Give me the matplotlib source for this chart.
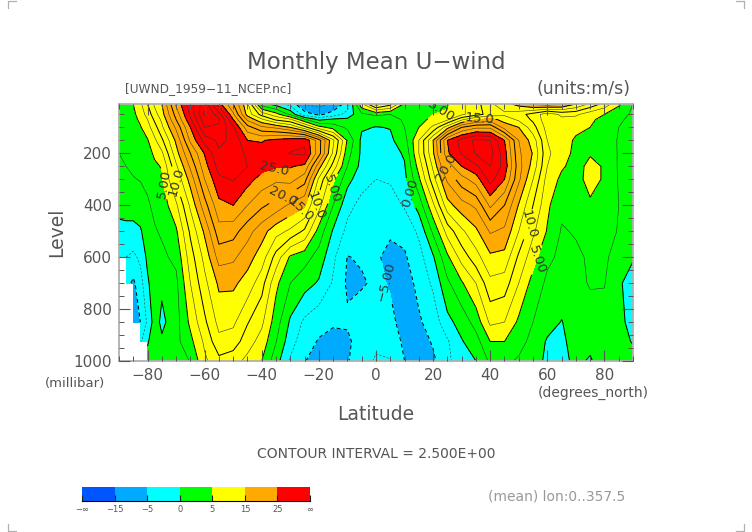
import numpy as np
import matplotlib
matplotlib.use("Agg")
import matplotlib.pyplot as plt
from matplotlib.lines import Line2D

nan = np.nan

levels_mb = [1000, 925, 850, 700, 600, 500, 400, 300, 250, 200, 150, 100, 70, 50, 10]

# zonal mean u-wind, one list per latitude, 1000 mb first
u_by_lat = {
    -90: [nan, nan, nan, nan, -2, -0.7, 0.8, 1.5, 2, 2.5, 3, 3.5, 3.8, 4, 4.5],
    -87.5: [nan, nan, nan, -4, -2.5, -0.8, 1.2, 2, 2.5, 3, 3.5, 3.7, 3.9, 4.2, 4.8],
    -85: [nan, nan, -6, -5.5, -3, -0.8, 1.2, 2.4, 2.8, 3.3, 3.6, 3.8, 4.2, 4.5, 5],
    -82.5: [nan, -3, -5, -3.5, -2, -0.3, 1.5, 2.6, 3, 3.5, 4, 4.8, 5.5, 6, 7],
    -80: [1, -0.3, -2, -0.4, 0.6, 1.5, 2.2, 3, 3.5, 4, 4.8, 6.5, 7.5, 8.5, 10],
    -77.5: [1.8, 1.6, 1.2, 1.5, 1.8, 2.3, 3, 4, 4.5, 5.5, 7, 9, 10.5, 11.5, 13],
    -75: [2, 0.4, -0.6, 0.5, 2, 2.8, 3.5, 4.6, 5.2, 7, 9.5, 12, 13, 14, 15],
    -70: [1.5, 1.8, 1.5, 1.9, 3.1, 4.6, 7, 10.5, 12, 14, 15.5, 18, 20, 21, 23],
    -65: [2.6, 4.3, 5.6, 7.5, 8.8, 10.5, 13, 16, 18, 20, 23, 25, 27, 28, 29],
    -60: [7, 8, 9.5, 11.8, 13.3, 15.5, 19, 22.5, 24, 25.2, 28.5, 32.5, 34, 35.5, 34],
    -55: [9.3, 11.8, 13.3, 15.5, 18.5, 21.5, 24.3, 27, 28.5, 29.7, 30.5, 32, 33, 31, 26],
    -50: [8.5, 11.3, 13, 15.5, 18, 21, 25, 27.7, 28.5, 29, 29.5, 28, 25, 23, 20],
    -45: [6.8, 8.6, 10.2, 14, 16, 18.5, 22.5, 26, 27.5, 27, 25, 21, 17, 14, 13],
    -40: [5, 6.5, 8, 11, 13.8, 16, 20.5, 24, 26, 26, 24.8, 18, 13, 9, 1],
    -35: [1, 2.6, 3.7, 5.6, 9, 13.5, 19, 23, 25.3, 27, 25.7, 17, 9.5, 6, -1],
    -30: [-2.8, -1.5, -0.4, 2.5, 4.6, 12, 17, 23.5, 25.2, 27.6, 26.5, 15, 8, 2, -3.5],
    -25: [-4.9, -4, -3, 1, 3.5, 9.5, 15.5, 21, 24.5, 28, 27, 11, 3, -4, -7.5],
    -20: [-6, -5.2, -4.2, -0.3, 1.5, 4, 8.5, 12, 16, 21, 21, 6, -0.5, -5.5, -8.5],
    -15: [-6.5, -5.5, -4.8, -2.8, -2, -0.3, 2.5, 5.5, 9, 12, 13, 4, 0.5, -4, -7],
    -10: [-5.2, -5.6, -4.6, -5.4, -5.1, -3.2, -1.7, 0.8, 2.5, 3.5, 4.7, 2, 0.5, -1.5, -4],
    -5: [-3.5, -3.5, -3.5, -5.3, -4.7, -4, -3.3, -1.5, -0.8, -0.5, -0.6, 0.3, 1, 2, 7],
    0: [-2.2, -3, -3.5, -4.5, -4.7, -4, -3.2, -2.5, -1.8, -1, -0.5, -0.1, 1.2, 3, 14],
    5: [-2.4, -3.3, -4.5, -5.2, -5.6, -4.7, -3.7, -2.2, -1.6, -1, -0.5, 0.1, 1, 2.5, 11],
    10: [-5, -5.6, -5.8, -6, -5.3, -4.3, -2.2, -0.7, -0.2, 0.3, 1.5, 2.5, 3, 3.5, 4.5],
    15: [-6.5, -6.3, -5.3, -4.4, -3.5, -2, 1, 4.5, 6, 7.5, 7.5, 5, 4, 4, 3.5],
    20: [-5.5, -4.7, -4, -2, -0.3, 3, 7, 11.5, 13, 14.6, 15, 8, 5.8, 5, 3.5],
    25: [-3, -2.8, -0.7, 2, 4.5, 8.5, 14, 18, 21, 24.6, 25, 14, 7, 5.5, 4.5],
    30: [-1.2, -0.2, 1, 4.7, 8.5, 12, 16.5, 21.5, 25, 27.8, 28.5, 20, 12, 7, 7],
    35: [0, 1.5, 3.5, 7.5, 11.5, 14.5, 18, 23.7, 27, 30.2, 30.5, 22, 15, 9, 9],
    40: [3, 5, 8, 11.8, 14.5, 17.8, 23, 28.5, 30, 31, 30, 22, 16, 11, 12],
    45: [3, 5, 7.5, 11.3, 14.2, 17, 20, 25, 26.5, 26, 25, 16.5, 14, 12, 14],
    50: [2.2, 3.3, 4.5, 7.5, 9.5, 12.5, 14.8, 18, 18.5, 18, 17.5, 15, 12, 11, 16],
    55: [1, 1.8, 2.5, 4, 6, 8, 10, 12.5, 14, 14.8, 13.8, 11, 9.5, 9, 18],
    60: [-0.5, -0.3, 1, 2, 3, 4.8, 5.5, 6.5, 7.5, 8, 7.5, 6.5, 6, 6, 19],
    65: [-0.5, -0.4, -0.1, 1.5, 2, 2.3, 3, 4.5, 5.3, 6, 6.3, 6.5, 7, 8, 18],
    70: [0.4, 0.8, 1.2, 1.8, 2.1, 2.7, 3.5, 4.1, 4.2, 4.4, 4.6, 5.7, 6.5, 8, 15],
    75: [-0.2, 0.5, 1.5, 2.7, 2.8, 3.5, 4.6, 5.9, 5.6, 4.8, 4.6, 5, 5.3, 6, 12],
    80: [1, 1.2, 1.8, 2.6, 2.9, 3.1, 4, 4.7, 4.8, 4.8, 3.8, 4.2, 4.5, 5, 9],
    85: [1.5, 1, 0.8, 0.5, 1.5, 2.4, 2.5, 2.3, 2.2, 2.2, 2.3, 2.5, 2.8, 3.2, 5.5],
    90: [1, -0.2, -1, -1.5, 0.3, 1.2, 1.6, 1.7, 1.7, 1.8, 1.9, 2, 2, 2.2, 2.5],
}

shade_levels = [-1000, -15, -5, 0, 5, 15, 25, 1000]
shade_colors = ["#0055ff", "#00aaff", "#00ffff", "#00ff00", "#ffff00", "#ffaa00", "#ff0000"]
bar_labels = ["\u2212\u221e", "\u221215", "\u22125", "0", "5", "15", "25", "\u221e"]

thin_levels = [-7.5, -2.5, 2.5, 7.5, 12.5, 17.5, 22.5, 27.5, 30, 32.5, 35]
label_fmt = {-5: "\u22125.00", 0: "0.00", 5: "5.00", 10: "10.0", 15: "15.0", 20: "20.0", 25: "25.0"}

# where the contour labels sit (latitude, mb)
label_lat = [-73.2, -68.6, -35.4, -33, -27.3, -21, -14, 13, 23.5, 36.4, 24.9, 52, 58.5, 5.6]
label_lev = [315, 304, 273, 354, 400, 400, 340, 350, 55, 73, 254, 470, 620, 688]

text_col = "#555555"
plt.rcParams["font.family"] = "DejaVu Sans"

lats = np.array(list(u_by_lat.keys()))
u = np.ma.masked_invalid(np.array(list(u_by_lat.values())).T)

fig = plt.figure(figsize=(7.52, 5.32), dpi=100)
ax = fig.add_axes([119 / 752, 1 - 361 / 532, 514 / 752, 257 / 532])

ax.contourf(lats, levels_mb, u, levels=shade_levels, colors=shade_colors, corner_mask=False)
ax.contour(lats, levels_mb, u, levels=thin_levels, colors="#333333", linewidths=0.4,
           corner_mask=False, negative_linestyles=(0, (4, 3)))
cs = ax.contour(lats, levels_mb, u, levels=list(label_fmt.keys()), colors="black", linewidths=0.7,
                corner_mask=False, negative_linestyles=(0, (4, 3)))
ax.clabel(cs, fmt=label_fmt, fontsize=9.5, colors="#333333",
          manual=list(zip(label_lat, label_lev)), inline=True, inline_spacing=1)

ax.set_xlim(-90, 90)
ax.set_ylim(1000, 10)
ax.set_xticks(range(-80, 81, 20))
ax.set_xticks(range(-90, 91, 5), minor=True)
ax.set_yticks(range(200, 1001, 200))
ax.set_yticks(range(50, 1000, 50), minor=True)
ax.tick_params(which="major", direction="in", length=8, width=0.8, top=True, right=True,
               labelsize=11, labelcolor=text_col, color="#555555", pad=5)
ax.tick_params(which="minor", direction="in", length=3.5, width=0.7, top=True, right=True,
               color="#555555")
for s in ax.spines.values():
    s.set_color("#b0b0b0")
    s.set_linewidth(1.3)
ax.set_axisbelow(False)

fig.text(376 / 752, 1 - 62 / 532, "Monthly Mean U\u2212wind", fontsize=16.5, color=text_col,
         ha="center", va="center")
fig.text(125 / 752, 1 - 89 / 532, "[UWND_1959\u221211_NCEP.nc]", fontsize=8.7, color=text_col,
         ha="left", va="center")
fig.text(630 / 752, 1 - 89 / 532, "(units:m/s)", fontsize=12.5, color=text_col, ha="right", va="center")
fig.text(57 / 752, 1 - 232 / 532, "Level", fontsize=13.5, color=text_col, rotation=90,
         ha="center", va="center")
fig.text(75 / 752, 1 - 384 / 532, "(millibar)", fontsize=9.5, color=text_col, ha="center", va="center")
fig.text(376 / 752, 1 - 415 / 532, "Latitude", fontsize=13.5, color=text_col, ha="center", va="center")
fig.text(593 / 752, 1 - 393 / 532, "(degrees_north)", fontsize=10, color=text_col, ha="center", va="center")
fig.text(376 / 752, 1 - 454 / 532, "CONTOUR INTERVAL = 2.500E+00", fontsize=10, color=text_col,
         ha="center", va="center")
fig.text(557 / 752, 1 - 497 / 532, "(mean) lon:0..357.5", fontsize=10, color="#999999", ha="center", va="center")

# colour key, equal boxes whatever the value range
cax = fig.add_axes([82 / 752, 1 - 501 / 532, 228 / 752, 14 / 532])
for i, c in enumerate(shade_colors):
    cax.bar(i, 1, width=1, align="edge", color=c)
cax.set_xlim(0, len(shade_colors))
cax.set_ylim(0, 1)
cax.set_yticks([])
cax.set_xticks(range(len(bar_labels)))
cax.set_xticklabels(bar_labels, fontsize=6, color=text_col)
cax.tick_params(axis="x", direction="in", length=4, width=0.8, pad=3, color="#222222")
for s in cax.spines.values():
    s.set_visible(False)
cax.spines["bottom"].set_visible(True)
cax.spines["bottom"].set_linewidth(0.8)

# crop marks in the page corners
for cx, dx in [(8, 8), (744, -8)]:
    for cy, dy in [(1, 7), (531, -7)]:
        fig.add_artist(Line2D([(cx + dx) / 752, cx / 752, cx / 752],
                              [1 - cy / 532, 1 - cy / 532, 1 - (cy + dy) / 532],
                              color="#b0b0b0", linewidth=0.9))

fig.savefig("out.png", dpi=100)
